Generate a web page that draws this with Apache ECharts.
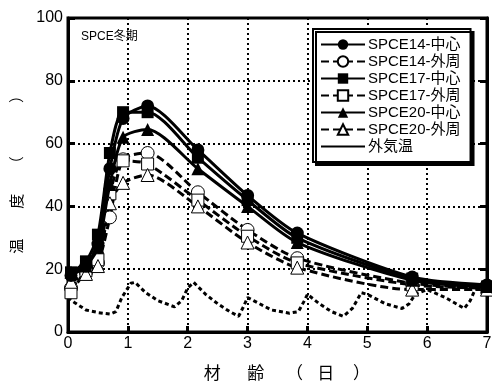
<!DOCTYPE html>
<html><head><meta charset="utf-8">
<script src="https://cdn.jsdelivr.net/npm/echarts@6/dist/echarts.min.js"></script>
<style>html,body{margin:0;padding:0;background:#fff}#c{width:492px;height:383px}</style>
</head><body><div id="c"></div>
<script>
const days = [0.05, 0.3, 0.5, 0.7, 0.92, 1.33, 2.17, 3.0, 3.83, 5.75, 7.0];
const spce14Center = [18, 21, 28, 52, 68, 72, 58, 43.5, 31.5, 17.5, 15];
const spce14Outer  = [14, 19, 22, 36.5, 55, 57, 44.5, 32.5, 23.5, 15.5, 14];
const spce17Center = [19, 22.5, 31, 57, 70, 70, 55.5, 42, 30, 17, 14.5];
const spce17Outer  = [12.5, 19.5, 23, 44, 54.5, 53.5, 42, 30.5, 22, 15, 14];
const spce20Center = [19, 21, 27, 47, 62, 64.5, 52, 40, 28.5, 16.5, 14.5];
const spce20Outer  = [16, 18.5, 21, 41, 47.5, 50, 40, 28.5, 20.5, 13.5, 13.5];
const airDays = [0, 0.1, 0.3, 0.5, 0.7, 0.8, 0.9, 1.05, 1.12, 1.3, 1.5, 1.78, 1.9, 2.0, 2.1, 2.3, 2.5, 2.7, 2.85, 2.93, 3.0, 3.1, 3.4, 3.7, 3.85, 3.95, 4.0, 4.2, 4.4, 4.6, 4.75, 4.9, 5.0, 5.3, 5.58, 5.7, 5.8, 6.0, 6.3, 6.62, 6.72, 6.8, 7.0];
const airTemp = [11, 9.5, 7, 6.2, 5.7, 6.5, 11, 15.5, 15.8, 12.5, 10, 8, 10, 14, 15.8, 12, 9, 6.5, 5, 8, 11, 10, 7, 6, 6.5, 10, 12, 9, 6.5, 5, 7.5, 12.5, 12, 9, 7.5, 9, 12, 13.5, 11, 7.5, 10, 13.5, 14];
const xTicks = [0, 1, 2, 3, 4, 5, 6, 7];
const yTicks = [0, 20, 40, 60, 80, 100];

const zip = (xs, ys) => xs.map((x, i) => [x, ys[i]]);
const FONT = 'Liberation Sans, Arial, Noto Sans CJK JP, sans-serif';

function mkSeries(name, vals, symbol, filled, dashed) {
  return {
    name, type: 'line', data: zip(days, vals), smooth: 0.25,
    symbol, symbolSize: symbol === 'rect' ? 12 : 13,
    showAllSymbol: true,
    lineStyle: { color: '#000', width: 3, type: dashed ? [8, 4] : 'solid' },
    itemStyle: filled ? { color: '#000', borderColor: '#000', borderWidth: 0 }
                      : { color: '#fff', borderColor: '#000', borderWidth: 1 },
    z: filled ? 4 : 3
  };
}

const chart = echarts.init(document.getElementById('c'));
chart.setOption({
  animation: false,
  backgroundColor: '#fff',
  title: { text: 'SPCE冬期', left: 76, top: 26, textStyle: { fontSize: 12, fontWeight: 'normal', color: '#000', fontFamily: FONT } },
  grid: { left: 68, right: 5, top: 18, bottom: 51, outerBoundsMode: 'none', containLabel: false, show: true, borderColor: '#000', borderWidth: 3, backgroundColor: 'transparent' },
  legend: {
    orient: 'vertical', left: 313, top: 29,
    backgroundColor: '#fff', borderColor: '#000', borderWidth: 2,
    shadowColor: '#000', shadowBlur: 0, shadowOffsetX: 3, shadowOffsetY: 3,
    padding: [8, 10, 8, 7], itemGap: 2, itemWidth: 44, itemHeight: 13,
    textStyle: { fontSize: 15, color: '#000', fontFamily: FONT, padding: [0, 0, 0, -2] },
    data: [
      { name: 'SPCE14-中心' }, { name: 'SPCE14-外周' }, { name: 'SPCE17-中心' },
      { name: 'SPCE17-外周' }, { name: 'SPCE20-中心' }, { name: 'SPCE20-外周' },
      { name: '外気温', lineStyle: { type: 'solid' }, itemStyle: { color: 'rgba(0,0,0,0)', borderWidth: 0 } }
    ]
  },
  xAxis: [{
    type: 'value', min: 0, max: 7, interval: 1,
    name: '    材　  齢　 （   日    ）', nameLocation: 'middle', nameGap: 34,
    nameTextStyle: { fontSize: 17, color: '#000', fontFamily: FONT },
    axisLine: { show: true, lineStyle: { color: '#000', width: 3 } },
    axisTick: { show: true, inside: true, length: 6, lineStyle: { color: '#000', width: 3 } },
    axisLabel: { fontSize: 16, color: '#000', margin: 4, fontFamily: FONT },
    splitLine: { show: true, lineStyle: { color: '#000', width: 2, type: [2, 3] } }
  }],
  yAxis: [{
    type: 'value', min: 0, max: 100, interval: 20,
    name: '  温　　度　　（　　　  ）', nameLocation: 'middle', nameGap: 42, nameRotate: 90,
    nameTextStyle: { fontSize: 15, color: '#000', fontFamily: FONT },
    axisLine: { show: true, lineStyle: { color: '#000', width: 3 } },
    axisTick: { show: true, inside: true, length: 7, lineStyle: { color: '#000', width: 3 } },
    axisLabel: { fontSize: 16, color: '#000', margin: 5, fontFamily: FONT },
    splitLine: { show: true, lineStyle: { color: '#000', width: 2, type: [2, 3] } }
  }, {
    type: 'value', min: 0, max: 100, interval: 20, position: 'right',
    axisLine: { show: true, lineStyle: { color: '#000', width: 3 } },
    axisTick: { show: true, inside: true, length: 7, lineStyle: { color: '#000', width: 3 } },
    axisLabel: { show: false }, splitLine: { show: false }
  }],
  series: [
    mkSeries('SPCE14-中心', spce14Center, 'circle', true, false),
    mkSeries('SPCE14-外周', spce14Outer, 'circle', false, true),
    mkSeries('SPCE17-中心', spce17Center, 'rect', true, false),
    mkSeries('SPCE17-外周', spce17Outer, 'rect', false, true),
    mkSeries('SPCE20-中心', spce20Center, 'triangle', true, false),
    mkSeries('SPCE20-外周', spce20Outer, 'triangle', false, true),
    {
      name: '外気温', type: 'line', data: zip(airDays, airTemp), symbol: 'none', smooth: false,
      lineStyle: { color: '#000', width: 3, type: [4, 3] }, itemStyle: { color: '#000' }, z: 2
    }
  ]
});
</script></body></html>
